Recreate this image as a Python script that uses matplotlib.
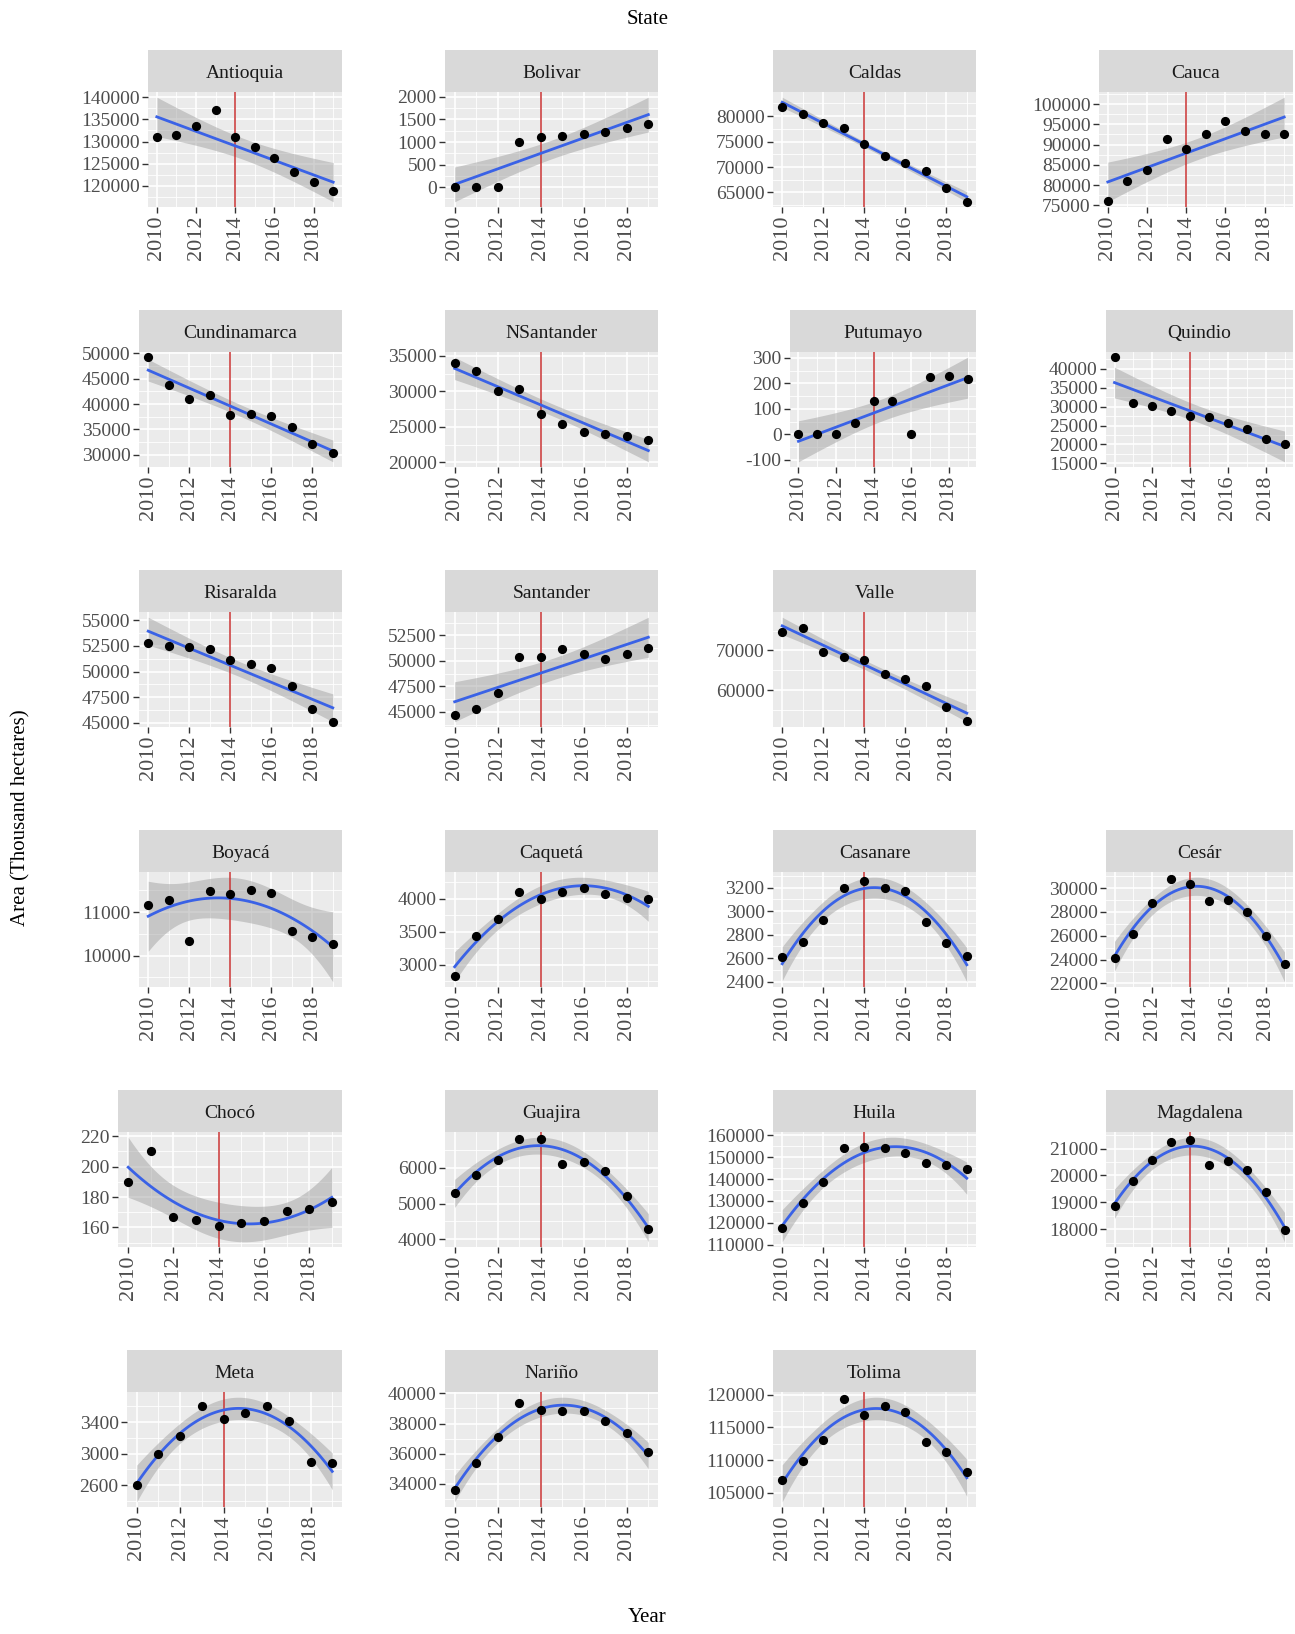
import numpy as np
import matplotlib
matplotlib.use('Agg')
import matplotlib.pyplot as plt

plt.rcParams['font.family'] = ['Liberation Serif', 'DejaVu Serif']

years = np.arange(2010, 2020)
policy_year = 2014

# area per state, 2010-2019
antioquia = [131000, 131400, 133600, 137200, 131000, 128800, 126200, 123200, 120750, 118900]
bolivar = [0, 0, 0, 1000, 1100, 1140, 1185, 1215, 1310, 1390]
caldas = [81800, 80500, 78700, 77700, 74500, 72200, 70700, 69200, 65900, 63200]
cauca = [76100, 81000, 83850, 91400, 88800, 92600, 95700, 93350, 92550, 92550]
cundinamarca = [49200, 43800, 40900, 41800, 37900, 38000, 37700, 35400, 32200, 30300]
nsantander = [34000, 32900, 30000, 30400, 26800, 25400, 24300, 24000, 23700, 23100]
putumayo = [0, 0, 0, 44, 129, 130, 0, 224, 230, 218]
quindio = [43100, 30870, 30160, 28800, 27400, 27150, 25800, 24200, 21560, 20230]
risaralda = [52800, 52500, 52350, 52200, 51100, 50700, 50300, 48600, 46350, 45100]
santander = [44650, 45300, 46860, 50350, 50350, 51160, 50700, 50200, 50700, 51300]
valle = [74750, 75670, 69500, 68250, 67600, 64170, 62900, 61000, 55750, 52330]
boyaca = [11160, 11270, 10330, 11485, 11420, 11520, 11450, 10560, 10420, 10265]
caqueta = [2830, 3440, 3690, 4100, 4000, 4100, 4165, 4070, 4020, 4000]
casanare = [2607, 2736, 2926, 3200, 3253, 3200, 3175, 2910, 2733, 2615]
cesar = [24160, 26150, 28730, 30775, 30360, 28920, 29030, 27980, 25990, 23630]
choco = [190, 210, 167, 165, 161, 163, 164, 171, 172, 177]
guajira = [5310, 5800, 6210, 6820, 6820, 6120, 6160, 5910, 5200, 4280]
huila = [117800, 128900, 138500, 154000, 154750, 154000, 151750, 147250, 146200, 144550]
magdalena = [18880, 19790, 20590, 21250, 21310, 20400, 20530, 20190, 19400, 17975]
meta = [2600, 3000, 3225, 3600, 3435, 3520, 3600, 3410, 2895, 2880]
narino = [33590, 35380, 37120, 39370, 38910, 38820, 38820, 38190, 37340, 36120]
tolima = [107000, 109800, 113080, 119250, 116900, 118250, 117400, 112800, 111250, 108200]

# y axis breaks per state
antioquia_ticks = [120000, 125000, 130000, 135000, 140000]
bolivar_ticks = [0, 500, 1000, 1500, 2000]
caldas_ticks = [65000, 70000, 75000, 80000]
cauca_ticks = [75000, 80000, 85000, 90000, 95000, 100000]
cundinamarca_ticks = [30000, 35000, 40000, 45000, 50000]
nsantander_ticks = [20000, 25000, 30000, 35000]
putumayo_ticks = [-100, 0, 100, 200, 300]
quindio_ticks = [15000, 20000, 25000, 30000, 35000, 40000]
risaralda_ticks = [45000, 47500, 50000, 52500, 55000]
santander_ticks = [45000, 47500, 50000, 52500]
valle_ticks = [60000, 70000]
boyaca_ticks = [10000, 11000]
caqueta_ticks = [3000, 3500, 4000]
casanare_ticks = [2400, 2600, 2800, 3000, 3200]
cesar_ticks = [22000, 24000, 26000, 28000, 30000]
choco_ticks = [160, 180, 200, 220]
guajira_ticks = [4000, 5000, 6000]
huila_ticks = [110000, 120000, 130000, 140000, 150000, 160000]
magdalena_ticks = [18000, 19000, 20000, 21000]
meta_ticks = [2600, 3000, 3400]
narino_ticks = [34000, 36000, 38000, 40000]
tolima_ticks = [105000, 110000, 115000, 120000]

# (name, values, breaks, polynomial degree of the smoother)
panels = [
    [('Antioquia', antioquia, antioquia_ticks, 1), ('Bolivar', bolivar, bolivar_ticks, 1),
     ('Caldas', caldas, caldas_ticks, 1), ('Cauca', cauca, cauca_ticks, 1)],
    [('Cundinamarca', cundinamarca, cundinamarca_ticks, 1), ('NSantander', nsantander, nsantander_ticks, 1),
     ('Putumayo', putumayo, putumayo_ticks, 1), ('Quindio', quindio, quindio_ticks, 1)],
    [('Risaralda', risaralda, risaralda_ticks, 1), ('Santander', santander, santander_ticks, 1),
     ('Valle', valle, valle_ticks, 1)],
    [('Boyacá', boyaca, boyaca_ticks, 2), ('Caquetá', caqueta, caqueta_ticks, 2),
     ('Casanare', casanare, casanare_ticks, 2), ('Cesár', cesar, cesar_ticks, 2)],
    [('Chocó', choco, choco_ticks, 2), ('Guajira', guajira, guajira_ticks, 2),
     ('Huila', huila, huila_ticks, 2), ('Magdalena', magdalena, magdalena_ticks, 2)],
    [('Meta', meta, meta_ticks, 2), ('Nariño', narino, narino_ticks, 2),
     ('Tolima', tolima, tolima_ticks, 2)],
]

# layout in pixels
W, H = 1295, 1634
right_edges = [342, 658, 976, 1293]
left_edges = [
    [148, 445, 773, 1099],
    [139, 445, 790, 1106],
    [139, 445, 773],
    [139, 445, 773, 1106],
    [118, 445, 773, 1106],
    [127, 445, 773],
]
row_pitch = 260
strip_top0, panel_top0, panel_bot0 = 50, 92, 207

T975 = {8: 2.306004, 7: 2.364624}


def fit_band(x, y, degree, n=80):
    xm = x.mean()
    X = np.vander(x - xm, degree + 1)
    beta = np.linalg.lstsq(X, y, rcond=None)[0]
    resid = y - X @ beta
    dof = len(x) - (degree + 1)
    s2 = resid @ resid / dof
    cov = np.linalg.inv(X.T @ X)
    xs = np.linspace(x.min(), x.max(), n)
    Xs = np.vander(xs - xm, degree + 1)
    fit = Xs @ beta
    se = np.sqrt(s2 * np.einsum('ij,jk,ik->i', Xs, cov, Xs))
    t = T975[dof]
    return xs, fit, fit - t * se, fit + t * se


fig = plt.figure(figsize=(W / 100, H / 100), dpi=100)

for r, row in enumerate(panels):
    st = strip_top0 + r * row_pitch
    pt = panel_top0 + r * row_pitch
    pb = panel_bot0 + r * row_pitch
    for c, (name, vals, breaks, deg) in enumerate(row):
        left = left_edges[r][c]
        right = right_edges[c]
        y = np.array(vals, dtype=float)
        x = years.astype(float)
        xs, fit, lo, hi = fit_band(x, y, deg)

        ax = fig.add_axes([left / W, 1 - pb / H, (right - left) / W, (pb - pt) / H])
        ax.set_facecolor('#EBEBEB')
        for s in ax.spines.values():
            s.set_visible(False)

        ax.fill_between(xs, lo, hi, color='#999999', alpha=0.45, lw=0, zorder=1)
        ax.axvline(policy_year, color='#C83232', lw=1.1, zorder=2)
        ax.plot(xs, fit, color='#3A62E6', lw=2.0, zorder=3)
        ax.scatter(x, y, s=44, color='black', zorder=4, linewidths=0)

        ymin = min(y.min(), lo.min())
        ymax = max(y.max(), hi.max())
        pad = 0.05 * (ymax - ymin)

        ax.set_xticks(np.arange(2010, 2019, 2))
        ax.set_xticklabels([str(v) for v in range(2010, 2019, 2)], rotation=90)
        ax.set_xticks(np.arange(2011, 2020, 2), minor=True)
        step = breaks[1] - breaks[0]
        ax.set_yticks(breaks)
        ax.set_yticklabels([str(v) for v in breaks])
        minors = [breaks[0] - step / 2] + [b + step / 2 for b in breaks]
        ax.set_yticks(minors, minor=True)
        ax.set_xlim(2010 - 0.45, 2019 + 0.45)
        ax.set_ylim(ymin - pad, ymax + pad)

        ax.set_axisbelow(True)
        ax.grid(which='major', color='white', lw=1.2)
        ax.grid(which='minor', color='white', lw=0.6)
        ax.tick_params(which='major', length=4, width=1.0, color='#333333',
                       labelcolor='#4D4D4D', pad=2)
        ax.tick_params(axis='y', which='major', labelsize=14)
        ax.tick_params(axis='x', which='major', labelsize=16)
        ax.tick_params(which='minor', length=0)

        sax = fig.add_axes([left / W, 1 - pt / H, (right - left) / W, (pt - st) / H])
        sax.set_facecolor('#D9D9D9')
        sax.set_xticks([])
        sax.set_yticks([])
        for s in sax.spines.values():
            s.set_visible(False)
        sax.text(0.5, 0.45, name, ha='center', va='center', fontsize=14, color='#1A1A1A',
                 transform=sax.transAxes)

fig.text(0.5, 1 - 19 / H, 'State', ha='center', va='center', fontsize=15, color='black')
fig.text(0.5, 1 - 1618 / H, 'Year', ha='center', va='center', fontsize=15, color='black')
fig.text(21 / W, 1 - 818 / H, 'Area (Thousand hectares)', ha='center', va='center',
         rotation=90, fontsize=15, color='black')

fig.savefig('out.png', dpi=100, facecolor='white')
